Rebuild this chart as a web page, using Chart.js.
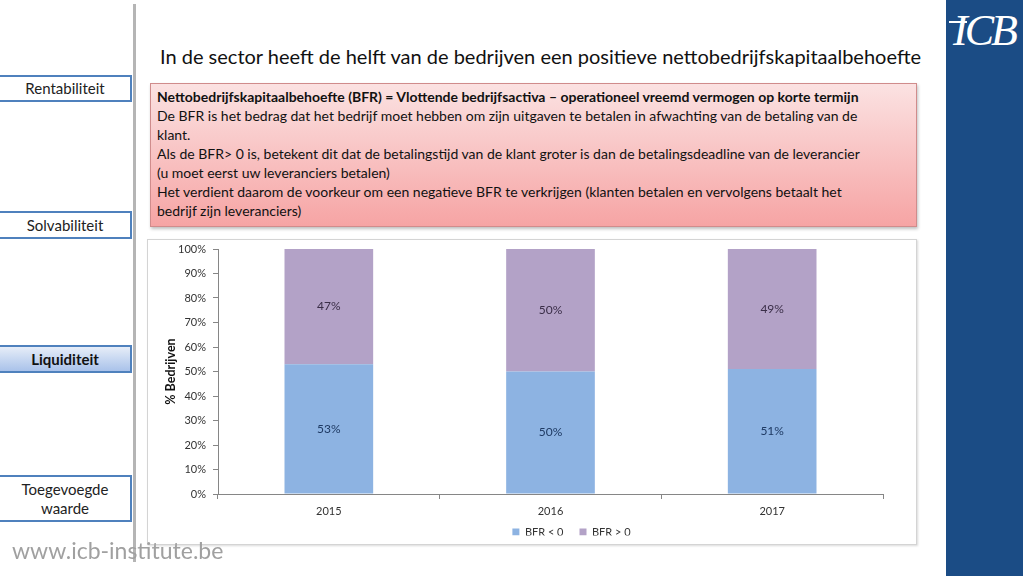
<!DOCTYPE html>
<html>
<head>
<meta charset="utf-8">
<script src="https://cdn.jsdelivr.net/npm/chart.js@4.4.0/dist/chart.umd.min.js"></script>
<style>
  html, body { margin:0; padding:0; background:#fff; }
  body { width:1023px; height:576px; position:relative; overflow:hidden; font-family: Lato, "Open Sans", sans-serif; }
  .side { position:absolute; left:-2px; width:134px; border:2px solid #4f81bd; background:#fff; font-size:15px; color:#222; text-align:center; box-sizing:border-box; display:flex; align-items:center; justify-content:center; line-height:19px; }
  .active { background: linear-gradient(#e6edf8, #a9c2ea); font-weight:bold; color:#111; }
  .vline { position:absolute; left:133px; top:4px; width:3px; height:558px; background:#b5b5b5; }
  .brand { position:absolute; left:946px; top:0; width:77px; height:576px; background:#1b4c85; }
  .logo { position:absolute; left:953px; top:5px; color:#fff; font-family:"Liberation Serif", serif; font-style:italic; font-size:44px; letter-spacing:-3px; }
  .logostroke { position:absolute; left:949px; top:21px; width:18px; height:2px; background:#fff; }
  .title { position:absolute; left:160px; top:44px; width:780px; font-size:20px; color:#111; white-space:nowrap; }
  .note { position:absolute; left:150px; top:83px; width:767px; height:144px; box-sizing:border-box; border:1px solid #d08c8c; background:linear-gradient(#fbe2e2, #f6a4a4); box-shadow:1px 2px 3px rgba(0,0,0,0.25); padding:3px 0 0 6px; font-size:14px; line-height:19px; color:#111; white-space:nowrap; }
  .panel { position:absolute; left:147px; top:239px; width:770px; height:306px; box-sizing:border-box; border:1px solid #d4d4d4; box-shadow:1px 1px 2px rgba(0,0,0,0.15); background:#fff; }
  #wrap { position:absolute; left:148px; top:240px; width:768px; height:304px; }
  .url { position:absolute; left:12px; top:536px; font-size:23px; color:#a0a0a0; }
</style>
</head>
<body>
<div class="side" style="top:75px;height:27px;">Rentabiliteit</div>
<div class="side" style="top:211px;height:28px;">Solvabiliteit</div>
<div class="side active" style="top:345px;height:28px;">Liquiditeit</div>
<div class="side" style="top:475px;height:47px;">Toegevoegde<br>waarde</div>
<div class="vline"></div>
<div class="brand"></div>
<div class="logo">ICB</div>
<div class="logostroke"></div>
<div class="title">In de sector heeft de helft van de bedrijven een positieve nettobedrijfskapitaalbehoefte</div>
<div class="note"><b>Nettobedrijfskapitaalbehoefte (BFR) = Vlottende bedrijfsactiva – operationeel vreemd vermogen op korte termijn</b><br>De BFR is het bedrag dat het bedrijf moet hebben om zijn uitgaven te betalen in afwachting van de betaling van de<br>klant.<br>Als de BFR&gt; 0 is, betekent dit dat de betalingstijd van de klant groter is dan de betalingsdeadline van de leverancier<br>(u moet eerst uw leveranciers betalen)<br>Het verdient daarom de voorkeur om een negatieve BFR te verkrijgen (klanten betalen en vervolgens betaalt het<br>bedrijf zijn leveranciers)</div>
<div class="panel"></div>
<div id="wrap"><canvas id="c" width="768" height="304"></canvas></div>
<div class="url">www.icb-institute.be</div>
<script>
const categories = ["2015", "2016", "2017"];
const seriesNames = ["BFR < 0", "BFR > 0"];
const bfrNegative = [53, 50, 51];
const bfrPositive = [47, 50, 49];
const yTicks = [0, 10, 20, 30, 40, 50, 60, 70, 80, 90, 100];

const labelPlugin = {
  id: 'segLabels',
  afterDatasetsDraw(chart) {
    const ctx = chart.ctx;
    ctx.save();
    ctx.font = '12px Lato, "Open Sans", sans-serif';
    ctx.textAlign = 'center';
    ctx.textBaseline = 'middle';
    chart.data.datasets.forEach((ds, di) => {
      const meta = chart.getDatasetMeta(di);
      meta.data.forEach((el, i) => {
        ctx.fillStyle = ds.labelColor;
        ctx.fillText(ds.data[i] + '%', el.x, (el.y + el.base) / 2);
      });
    });
    ctx.restore();
  }
};

const legendTweak = {
  id: 'legendTweak',
  afterInit(chart) {
    const lg = chart.legend;
    if (!lg) return;
    const origFit = lg.fit;
    lg.fit = function () { origFit.call(this); this.height = 25; };
    const origDraw = lg.draw;
    lg.draw = function () {
      const ctx = this.ctx;
      const pad = this.options.labels.padding;
      const dy = (this.chart.height - 12) - (this.top + pad + 5.5);
      ctx.save();
      ctx.translate(56, dy);
      origDraw.call(this);
      ctx.restore();
    };
  }
};

new Chart(document.getElementById('c'), {
  type: 'bar',
  data: {
    labels: categories,
    datasets: [
      { label: seriesNames[0], data: bfrNegative, backgroundColor: '#8db3e2', labelColor: '#1f3a63' },
      { label: seriesNames[1], data: bfrPositive, backgroundColor: '#b3a2c7', labelColor: '#3a2e48' }
    ]
  },
  options: {
    responsive: false,
    animation: false,
    devicePixelRatio: 1,
    datasets: { bar: { categoryPercentage: 1, barPercentage: 0.4 } },
    layout: { padding: { top: 9, right: 33, left: 0, bottom: 0 } },
    plugins: {
      tooltip: { enabled: false },
      legend: {
        position: 'bottom',
        labels: { boxWidth: 7, boxHeight: 7, padding: 16, color: '#333', font: { size: 11, family: 'Lato, "Open Sans", sans-serif' } }
      }
    },
    scales: {
      x: {
        stacked: true,
        afterFit(scale) { scale.height = 25; },
        grid: { offset: true, drawOnChartArea: false, tickLength: 5, color: '#868686' },
        border: { color: '#868686' },
        ticks: { padding: 6, color: '#333', font: { size: 11, family: 'Lato, "Open Sans", sans-serif' } }
      },
      y: {
        stacked: true,
        min: 0, max: 100,
        afterBuildTicks(scale) { scale.ticks = yTicks.map(v => ({ value: v })); },
        afterFit(scale) { scale.width = 70; scale.paddingTop = 0; scale.paddingBottom = 0; },
        grid: { drawOnChartArea: false, tickLength: 5, color: '#868686' },
        border: { color: '#868686' },
        ticks: { padding: 7, color: '#333', font: { size: 11, family: 'Lato, "Open Sans", sans-serif' }, callback: v => v + '%' },
        title: { display: true, text: '% Bedrijven', color: '#111', padding: { top: 15, bottom: 0 }, font: { size: 12.5, weight: 'bold', family: 'Lato, "Open Sans", sans-serif' } }
      }
    }
  },
  plugins: [labelPlugin, legendTweak]
});
</script>
</body>
</html>
